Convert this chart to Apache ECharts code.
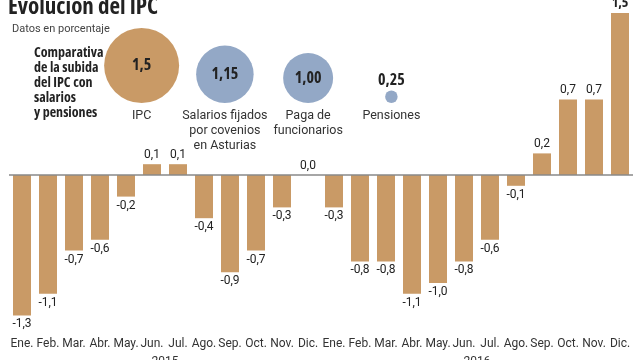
<!DOCTYPE html>
<html><head><meta charset="utf-8">
<script src="https://cdn.jsdelivr.net/npm/echarts@6/dist/echarts.min.js"></script>
<style>html,body{margin:0;padding:0;background:#fff}#c{width:640px;height:360px}</style>
</head><body><div id="c"></div>
<script>
const months = ['Ene.','Feb.','Mar.','Abr.','May.','Jun.','Jul.','Ago.','Sep.','Oct.','Nov.','Dic.'];
const years = ['2015','2016'];
const values2015 = [-1.3,-1.1,-0.7,-0.6,-0.2,0.1,0.1,-0.4,-0.9,-0.7,-0.3,0.0];
const values2016 = [-0.3,-0.8,-0.8,-1.1,-1.0,-0.8,-0.6,-0.1,0.2,0.7,0.7,1.5];
const bubbleNames = ['IPC','Salarios fijados\npor covenios\nen Asturias','Paga de\nfuncionarios','Pensiones'];
const bubbleValues = [1.5,1.15,1.00,0.25];
const bubbleLabels = ['1,5','1,15','1,00','0,25'];

const BFONT = '"Open Sans",sans-serif';
const NFONT = 'Roboto,sans-serif';
const NW = 'normal';
const BW = 'bold condensed';
const TAN = '#c99a66';
const BLUE = '#93a8c6';
const categories = months.concat(months);
const values = values2015.concat(values2016);
const maxV = Math.max.apply(null, values);
const fmt = v => v.toFixed(1).replace('.', ',');

const barData = values.map(v => ({
  value: v,
  label: v === maxV
    ? {position: 'top', fontFamily: BFONT, fontWeight: BW, fontSize: 14}
    : {position: v < 0 ? 'bottom' : 'top'}
}));

const chart = echarts.init(document.getElementById('c'), null, {renderer:'canvas'});
chart.setOption({
  animation: false,
  textStyle: {fontFamily: NFONT, fontWeight: NW},
  title: [
    {text: 'Evolución del IPC', left: 3, top: -9,
     textStyle: {fontFamily: BFONT, fontSize: 23, fontWeight: BW, color: '#222'}},
    {text: 'Datos en porcentaje', left: 7, top: 19,
     textStyle: {fontFamily: NFONT, fontSize: 11, fontWeight: NW, color: '#444'}},
    {text: 'Comparativa\nde la subida\ndel IPC con\nsalarios\ny pensiones', left: 29, top: 40,
     textStyle: {fontFamily: BFONT, fontSize: 14, fontWeight: BW, color: '#222', lineHeight: 15.2}}
  ],
  grid: [
    {left: 9, right: 7, top: 13, bottom: 23, outerBoundsMode: 'none', containLabel: false},
    {left: 100, width: 333, top: 20, height: 83, outerBoundsMode: 'none', containLabel: false}
  ],
  xAxis: [
    {type: 'category', gridIndex: 0, data: categories, position: 'bottom',
     axisLine: {show: false, onZero: false}, axisTick: {show: false},
     axisLabel: {interval: 0, margin: 1, fontSize: 12, color: '#333', fontFamily: NFONT, fontWeight: NW}},
    {type: 'category', gridIndex: 0, data: years, position: 'bottom', offset: 19,
     axisLine: {show: false}, axisTick: {show: false},
     axisLabel: {interval: 0, margin: 0, fontSize: 12, color: '#333', fontFamily: NFONT, fontWeight: NW}},
    {type: 'category', gridIndex: 1, data: bubbleNames, position: 'bottom',
     axisLine: {show: false}, axisTick: {show: false},
     axisLabel: {interval: 0, margin: 5, fontSize: 12.5, lineHeight: 15, color: '#333', fontFamily: NFONT, fontWeight: NW, verticalAlign: 'top'}}
  ],
  yAxis: [
    {type: 'value', gridIndex: 0, min: -1.5, max: 1.5, show: false},
    {type: 'value', gridIndex: 1, min: 0, max: 1, show: false}
  ],
  series: [
    {type: 'bar', xAxisIndex: 0, yAxisIndex: 0, data: barData, barWidth: 18,
     itemStyle: {color: TAN},
     label: {show: true, distance: 3, color: '#222', fontFamily: NFONT, fontSize: 12, fontWeight: NW,
             formatter: p => fmt(p.value)},
     markLine: {silent: true, symbol: 'none', label: {show: false},
                lineStyle: {color: '#888', width: 1.5, type: 'solid'},
                data: [{yAxis: 0}]}},
    {type: 'scatter', xAxisIndex: 2, yAxisIndex: 1,
     data: bubbleValues.map((v, i) => i === 3
       ? {value: [i, 0], label: {position: 'top', distance: 2, fontSize: 16}}
       : [i, 0]),
     symbol: 'circle',
     symbolSize: (val, p) => bubbleValues[p.dataIndex] * 50,
     symbolOffset: [0, '-50%'],
     itemStyle: {color: p => p.dataIndex === 0 ? TAN : BLUE, opacity: 1},
     label: {show: true, fontFamily: BFONT, fontSize: 16, fontWeight: BW, color: '#222',
             position: 'inside',
             formatter: p => bubbleLabels[p.dataIndex]}}
  ]
});
</script></body></html>
